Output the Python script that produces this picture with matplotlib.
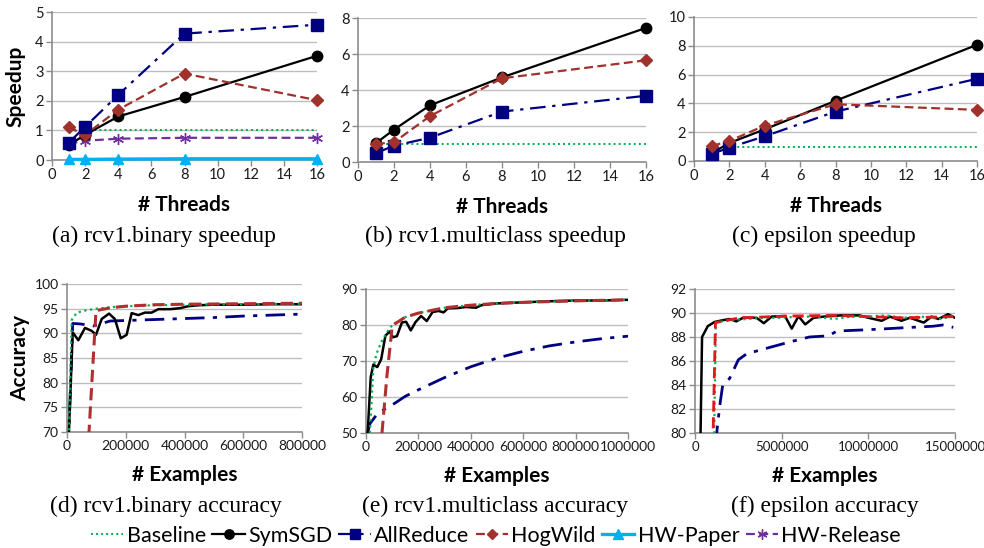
import matplotlib
matplotlib.use("Agg")
import matplotlib.pyplot as plt
from matplotlib.lines import Line2D

plt.rcParams['font.family'] = ['Lato', 'DejaVu Sans']

# ---------------- data ----------------
threads = [1, 2, 4, 8, 16]

# (a) rcv1.binary speedup
a_baseline = [1, 1, 1, 1, 1]
a_symsgd = [0.50, 0.85, 1.47, 2.13, 3.52]
a_allreduce = [0.58, 1.12, 2.20, 4.27, 4.57]
a_hogwild = [1.10, 0.85, 1.70, 2.92, 2.02]
a_hwpaper = [0.02, 0.02, 0.03, 0.04, 0.04]
a_hwrelease = [0.55, 0.65, 0.72, 0.75, 0.75]

# (b) rcv1.multiclass speedup
b_baseline = [1, 1, 1, 1, 1]
b_symsgd = [1.05, 1.80, 3.15, 4.70, 7.45]
b_allreduce = [0.50, 0.90, 1.35, 2.80, 3.68]
b_hogwild = [1.00, 1.10, 2.55, 4.65, 5.65]

# (c) epsilon speedup
c_baseline = [1, 1, 1, 1, 1]
c_symsgd = [0.55, 1.25, 2.20, 4.18, 8.07]
c_allreduce = [0.49, 0.93, 1.72, 3.43, 5.71]
c_hogwild = [1.04, 1.39, 2.46, 3.94, 3.55]

# (d) rcv1.binary accuracy
d_base_x = [6000, 16000, 33000, 60000, 100000, 150000, 200000, 300000, 400000, 600000, 800000]
d_base_y = [68.0, 92.7, 94.2, 94.6, 95.0, 95.3, 95.5, 95.7, 95.8, 95.9, 96.0]
d_sym_x = [4000, 19400, 38500, 61300, 84000, 98700, 118000, 143000, 163000, 183000, 203000,
           220000, 243000, 265000, 288000, 311000, 351000, 385000, 413000, 450000, 500000,
           600000, 700000, 800000]
d_sym_y = [66.0, 90.2, 88.6, 91.1, 90.5, 89.7, 92.9, 94.0, 92.9, 89.0, 89.7,
           94.1, 93.7, 94.2, 94.2, 94.9, 94.9, 95.1, 95.5, 95.7, 95.8,
           95.8, 95.9, 95.9]
d_ar_x = [4000, 19400, 46000, 90000, 147000, 200000, 300000, 400000, 500000, 600000, 700000, 800000]
d_ar_y = [66.0, 92.0, 91.9, 91.5, 92.5, 92.6, 92.8, 93.0, 93.2, 93.5, 93.7, 93.9]
d_hw_x = [74000, 98700, 150000, 200000, 300000, 400000, 600000, 800000]
d_hw_y = [69.0, 94.6, 95.2, 95.5, 95.8, 95.9, 96.0, 96.1]

# (e) rcv1.multiclass accuracy
e_base_x = [15000, 28000, 40000, 60000, 80000, 100000, 150000, 200000, 300000, 400000,
            500000, 600000, 800000, 1000000]
e_base_y = [50.0, 68.0, 72.0, 75.5, 78.0, 80.0, 82.2, 83.3, 84.8, 85.5,
            86.0, 86.3, 86.7, 87.0]
e_sym_x = [6300, 18000, 28000, 43000, 58000, 74000, 90000, 103000, 118000, 137000,
           153000, 171000, 189000, 210000, 232000, 254000, 277000, 296000, 312000, 350000,
           380000, 420000, 440000, 500000, 600000, 700000, 800000, 900000, 1000000]
e_sym_y = [50.0, 65.5, 69.0, 68.3, 70.5, 77.0, 78.2, 76.6, 76.9, 80.7,
           80.9, 78.5, 80.8, 82.5, 81.1, 83.6, 83.9, 83.5, 84.6, 84.7,
           85.0, 84.8, 85.5, 86.0, 86.3, 86.6, 86.8, 86.8, 87.0]
e_ar_x = [6300, 15000, 40000, 70000, 100000, 150000, 200000, 300000, 400000, 500000,
          600000, 700000, 800000, 900000, 1000000]
e_ar_y = [50.0, 52.6, 55.0, 56.6, 57.8, 60.2, 62.0, 65.4, 68.4, 70.8,
          72.7, 74.2, 75.3, 76.2, 76.9]
e_hw_x = [61000, 80000, 100000, 110000, 150000, 200000, 300000, 400000, 500000, 600000,
          800000, 1000000]
e_hw_y = [50.0, 66.0, 79.5, 80.3, 82.2, 83.3, 84.8, 85.5, 86.0, 86.3,
          86.7, 87.0]

# (f) epsilon accuracy
f_base_x = [1100000, 1200000, 2000000, 3000000, 4000000, 5000000, 6000000, 7000000,
            8000000, 9000000, 10000000, 11000000, 12000000, 13000000, 14200000, 15000000]
f_base_y = [79.0, 89.2, 89.4, 89.5, 89.6, 89.6, 89.7, 89.7,
            89.5, 89.7, 89.7, 89.8, 89.6, 89.7, 89.5, 89.8]
f_sym_x = [310000, 407000, 736000, 1124000, 1600000, 2000000, 2380000, 2770000, 3550000,
           3970000, 4420000, 5190000, 5580000, 5970000, 6360000, 6840000, 7420000,
           8400000, 9500000, 10000000, 10770000, 11250000, 11900000, 12400000, 13200000,
           13650000, 14040000, 14600000, 15000000]
f_sym_y = [79.0, 88.0, 88.9, 89.25, 89.4, 89.5, 89.3, 89.6, 89.6,
           89.15, 89.7, 89.75, 88.7, 89.73, 89.05, 89.6, 89.7,
           89.8, 89.8, 89.6, 89.35, 89.7, 89.35, 89.6, 89.2,
           89.7, 89.5, 89.9, 89.6]
f_ar_x = [1180000, 1320000, 1450000, 1600000, 2000000, 2500000, 2980000, 4100000, 5500000,
          6600000, 7700000, 8200000, 9900000, 11800000, 13750000, 14300000, 14900000]
f_ar_y = [79.0, 80.9, 82.5, 84.0, 84.55, 86.1, 86.6, 87.05, 87.6,
          88.0, 88.1, 88.5, 88.6, 88.75, 88.9, 89.0, 88.8]
f_hw_x = [1030000, 1180000, 2580000, 5500000, 8000000, 10000000, 12000000, 15000000]
f_hw_y = [79.0, 89.2, 89.6, 89.75, 89.8, 89.7, 89.6, 89.7]

series_names = ['Baseline', 'SymSGD', 'AllReduce', 'HogWild', 'HW-Paper', 'HW-Release']

# ---------------- styles ----------------
C_GREEN = '#00B050'
C_BLACK = '#000000'
C_NAVY = '#000080'
C_RED = '#A0312D'
C_RED2 = '#B03030'
C_RED3 = '#E01A1A'
C_CYAN = '#00B0F0'
C_PURPLE = '#7030A0'

st = {
    'Baseline': dict(color=C_GREEN, lw=1.4, dashes=(1, 1.6), marker=None),
    'SymSGD': dict(color=C_BLACK, lw=1.6, ls='-', marker='o', ms=7.5),
    'AllReduce': dict(color=C_NAVY, lw=1.6, dashes=(7, 3, 1.5, 3), marker='s', ms=8),
    'HogWild': dict(color=C_RED, lw=1.6, dashes=(4, 2), marker='D', ms=6),
    'HW-Paper': dict(color=C_CYAN, lw=2.4, ls='-', marker='^', ms=7.5),
    'HW-Release': dict(color=C_PURPLE, lw=1.6, dashes=(4, 2), marker=(6, 2, 0), ms=8),
}

W, H = 984, 548
fig = plt.figure(figsize=(W / 100, H / 100), dpi=100)

LABEL_FS = 15


def add_axes(l, r, t, b):
    return fig.add_axes([l / W, 1 - b / H, (r - l) / W, (b - t) / H])


def style_ax(ax, fs=10.5):
    for s in ['top', 'right']:
        ax.spines[s].set_visible(False)
    for s in ['left', 'bottom']:
        ax.spines[s].set_color('#8C8C8C')
        ax.spines[s].set_linewidth(1.2)
    ax.yaxis.grid(True, color='#BEBEBE', lw=1.0)
    ax.set_axisbelow(True)
    ax.tick_params(axis='both', colors='#8C8C8C', labelcolor='#1A1A1A',
                   labelsize=fs, length=4, width=1, pad=2)


def plot_speed(ax, name, y):
    s = dict(st[name])
    kw = dict(color=s['color'], lw=s['lw'], clip_on=False, zorder=3)
    if 'dashes' in s:
        kw['dashes'] = s['dashes']
    else:
        kw['ls'] = s['ls']
    if s['marker'] is not None:
        kw.update(marker=s['marker'], ms=s['ms'], mfc=s['color'], mec=s['color'])
    ax.plot(threads, y, **kw)


def plot_acc(ax, name, x, y, color=None, lw=None):
    s = dict(st[name])
    kw = dict(color=color or s['color'], lw=lw or 2.0, zorder=3)
    if 'dashes' in s:
        kw['dashes'] = s['dashes']
    else:
        kw['ls'] = s['ls']
    ax.plot(x, y, **kw)


# ---- speedup panels ----
ax_a = add_axes(52, 317, 12, 160)
ax_b = add_axes(358, 646, 18, 162)
ax_c = add_axes(694, 977, 17, 161)

for ax, top, step in [(ax_a, 5, 1), (ax_b, 8, 2), (ax_c, 10, 2)]:
    style_ax(ax)
    ax.set_xlim(0, 16)
    ax.set_ylim(0, top)
    ax.set_xticks(range(0, 17, 2))
    ax.set_yticks(range(0, top + 1, step))
    ax.set_xlabel('# Threads', fontsize=LABEL_FS, fontweight='bold', labelpad=9)

plot_speed(ax_a, 'Baseline', a_baseline)
plot_speed(ax_a, 'HW-Paper', a_hwpaper)
plot_speed(ax_a, 'HW-Release', a_hwrelease)
plot_speed(ax_a, 'SymSGD', a_symsgd)
plot_speed(ax_a, 'HogWild', a_hogwild)
plot_speed(ax_a, 'AllReduce', a_allreduce)

plot_speed(ax_b, 'Baseline', b_baseline)
plot_speed(ax_b, 'AllReduce', b_allreduce)
plot_speed(ax_b, 'SymSGD', b_symsgd)
plot_speed(ax_b, 'HogWild', b_hogwild)

plot_speed(ax_c, 'Baseline', c_baseline)
plot_speed(ax_c, 'SymSGD', c_symsgd)
plot_speed(ax_c, 'AllReduce', c_allreduce)
plot_speed(ax_c, 'HogWild', c_hogwild)

ax_a.set_ylabel('Speedup', fontsize=LABEL_FS, fontweight='bold', labelpad=7)

# ---- accuracy panels ----
ax_d = add_axes(67, 302, 284, 432)
ax_e = add_axes(366, 628, 289, 433)
ax_f = add_axes(695, 955, 289, 433)

cfg = [(ax_d, (0, 800000), range(0, 800001, 200000), (70, 100), range(70, 101, 5)),
       (ax_e, (0, 1000000), range(0, 1000001, 200000), (50, 90), range(50, 91, 10)),
       (ax_f, (0, 15000000), range(0, 15000001, 5000000), (80, 92), range(80, 93, 2))]
for ax, xl, xt, yl, yt in cfg:
    style_ax(ax, fs=10)
    ax.set_xlim(*xl)
    ax.set_ylim(*yl)
    ax.set_xticks(list(xt))
    ax.set_xticklabels([str(v) for v in xt])
    ax.set_yticks(list(yt))
    ax.set_xlabel('# Examples', fontsize=LABEL_FS, fontweight='bold', labelpad=9)
ax_f.tick_params(axis='x', labelsize=9.5)

plot_acc(ax_d, 'AllReduce', d_ar_x, d_ar_y)
plot_acc(ax_d, 'SymSGD', d_sym_x, d_sym_y, lw=1.8)
plot_acc(ax_d, 'Baseline', d_base_x, d_base_y, lw=1.6)
plot_acc(ax_d, 'HogWild', d_hw_x, d_hw_y, color=C_RED2, lw=2.2)

plot_acc(ax_e, 'AllReduce', e_ar_x, e_ar_y)
plot_acc(ax_e, 'SymSGD', e_sym_x, e_sym_y, lw=1.8)
plot_acc(ax_e, 'Baseline', e_base_x, e_base_y, lw=1.6)
plot_acc(ax_e, 'HogWild', e_hw_x, e_hw_y, color=C_RED2, lw=2.2)

plot_acc(ax_f, 'AllReduce', f_ar_x, f_ar_y)
plot_acc(ax_f, 'SymSGD', f_sym_x, f_sym_y, lw=1.8)
plot_acc(ax_f, 'Baseline', f_base_x, f_base_y, lw=1.6)
plot_acc(ax_f, 'HogWild', f_hw_x, f_hw_y, color=C_RED3, lw=2.0)

ax_d.set_ylabel('Accuracy', fontsize=LABEL_FS, fontweight='bold', labelpad=3)

# ---- captions ----
cap_kw = dict(fontsize=17, family=['Liberation Serif', 'DejaVu Serif'], ha='center', va='center')
fig.text(164 / W, 1 - 236 / H, '(a) rcv1.binary speedup', **cap_kw)
fig.text(495 / W, 1 - 236 / H, '(b) rcv1.multiclass speedup', **cap_kw)
fig.text(824 / W, 1 - 236 / H, '(c) epsilon speedup', **cap_kw)
fig.text(166 / W, 1 - 506 / H, '(d) rcv1.binary accuracy', **cap_kw)
fig.text(495 / W, 1 - 506 / H, '(e) rcv1.multiclass accuracy', **cap_kw)
fig.text(825 / W, 1 - 506 / H, '(f) epsilon accuracy', **cap_kw)

# ---- legend ----
handles = []
for n in series_names:
    s = st[n]
    kw = dict(color=s['color'], lw=s['lw'])
    if 'dashes' in s:
        kw['dashes'] = s['dashes']
    if s['marker'] is not None:
        kw.update(marker=s['marker'], ms=s['ms'] * 0.9, mfc=s['color'], mec=s['color'])
    handles.append(Line2D([], [], **kw))
fig.legend(handles, series_names, loc='center', bbox_to_anchor=(496 / W, 1 - 536 / H),
           ncol=6, frameon=False, fontsize=15.5, handlelength=1.5, handletextpad=0.15,
           columnspacing=0.3, borderpad=0, borderaxespad=0)

fig.savefig('out.png', dpi=100)
